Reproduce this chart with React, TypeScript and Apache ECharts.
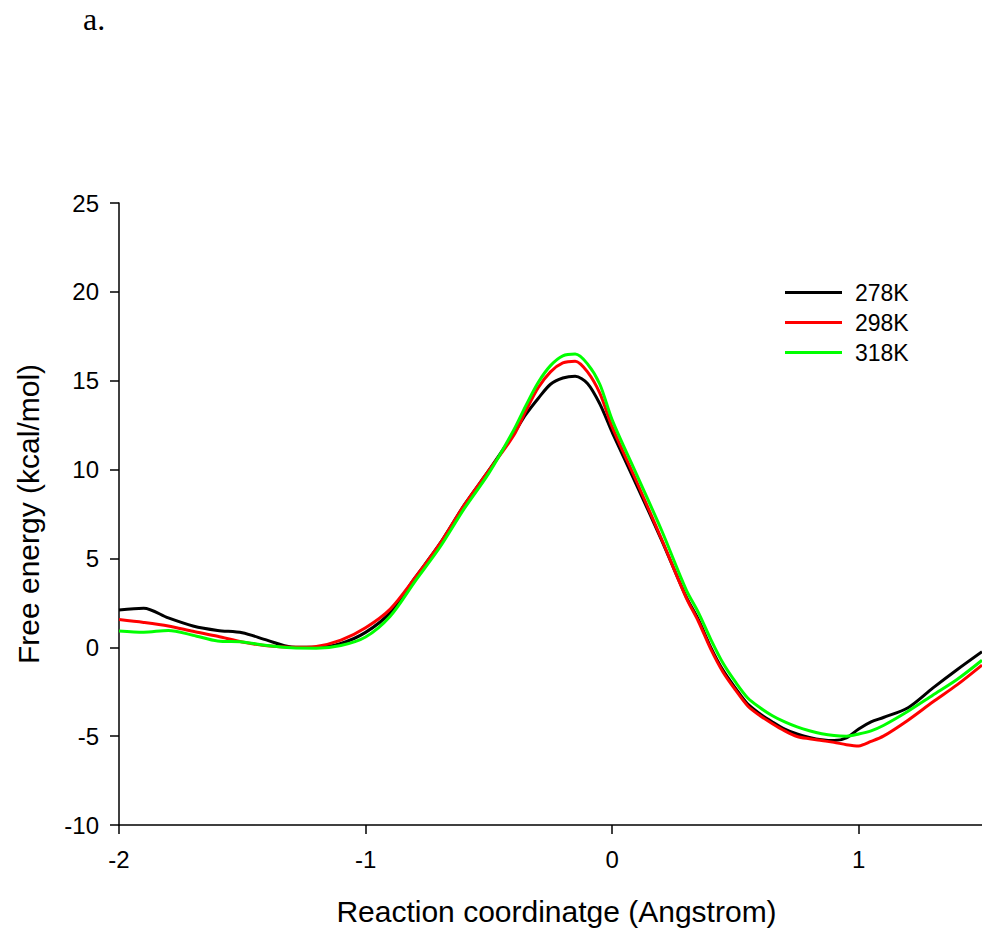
import React, { useEffect, useRef } from "react";
import * as echarts from "echarts";

const seriesNames = ["278K", "298K", "318K"];
const seriesColors = ["#000000", "#ff0000", "#00ff00"];

const xValues = [
  -2.0, -1.9, -1.8, -1.7, -1.6, -1.5, -1.4, -1.3, -1.2, -1.1, -1.0, -0.9, -0.8,
  -0.7, -0.6, -0.5, -0.4, -0.35, -0.3, -0.25, -0.2, -0.15, -0.1, -0.05, 0.0,
  0.1, 0.2, 0.3, 0.35, 0.4, 0.45, 0.5, 0.55, 0.6, 0.65, 0.7, 0.75, 0.8, 0.85,
  0.9, 0.95, 1.0, 1.05, 1.1, 1.2, 1.3, 1.4, 1.5,
];

const energy278 = [
  2.1, 2.2, 1.65, 1.2, 0.95, 0.82, 0.4, 0.02, 0.0, 0.22, 0.84, 1.95, 3.9, 5.8,
  8.0, 9.95, 12.0, 13.1, 14.0, 14.8, 15.15, 15.25, 14.85, 13.7, 12.1,
  9.1, 6.05, 2.85, 1.55, 0.0, -1.3, -2.3, -3.2, -3.75, -4.2, -4.6, -4.88,
  -5.07, -5.2, -5.25, -5.1, -4.6, -4.2, -3.95, -3.4, -2.3, -1.25, -0.25,
];

const energy298 = [
  1.56, 1.4, 1.2, 0.9, 0.62, 0.3, 0.08, 0.0, 0.05, 0.4, 1.1, 2.15, 3.9, 5.8,
  8.0, 9.95, 11.9, 13.3, 14.6, 15.5, 16.0, 16.1, 15.5, 14.3, 12.4,
  9.3, 6.1, 2.8, 1.45, -0.1, -1.4, -2.4, -3.3, -3.85, -4.3, -4.7, -5.02,
  -5.15, -5.25, -5.35, -5.48, -5.55, -5.3, -5.0, -4.1, -3.08, -2.1, -1.0,
];

const energy318 = [
  0.92, 0.85, 0.95, 0.68, 0.35, 0.3, 0.1, -0.03, -0.05, 0.1, 0.58, 1.75, 3.7,
  5.6, 7.8, 9.8, 12.2, 13.6, 14.9, 15.85, 16.4, 16.5, 15.95, 14.8, 12.8,
  9.7, 6.6, 3.25, 1.95, 0.45, -0.9, -1.95, -2.85, -3.4, -3.85, -4.2, -4.48,
  -4.7, -4.87, -4.97, -5.0, -4.88, -4.7, -4.4, -3.6, -2.7, -1.8, -0.73,
];

const xTicks = [-2, -1, 0, 1];
const yTicks = [-10, -5, 0, 5, 10, 15, 20, 25];

const allSeries = [energy278, energy298, energy318];

export default function App() {
  const ref = useRef<HTMLDivElement>(null);

  useEffect(() => {
    if (!ref.current) return;
    const chart = echarts.init(ref.current, null, { renderer: "svg" });
    const font = "Liberation Sans, Arial, sans-serif";
    chart.setOption({
      animation: false,
      backgroundColor: "#ffffff",
      textStyle: { fontFamily: font },
      graphic: [
        {
          type: "text",
          left: 83,
          top: 3,
          style: {
            text: "a.",
            font: "32px 'Liberation Serif', 'Times New Roman', serif",
            fill: "#000",
          },
        },
      ],
      legend: {
        orient: "vertical",
        left: 785,
        top: 281,
        padding: 0,
        itemGap: 7,
        itemWidth: 57,
        itemHeight: 3,
        icon: "rect",
        data: seriesNames,
        textStyle: {
          fontFamily: font,
          fontSize: 23,
          color: "#000",
          padding: [0, 0, 0, 8],
        },
      },
      grid: {
        left: 119,
        right: 0,
        top: 203,
        bottom: 112,
        containLabel: false,
        outerBoundsMode: "none",
      },
      xAxis: {
        type: "value",
        min: -2,
        max: 1.5,
        interval: 1,
        name: "Reaction coordinatge (Angstrom)",
        nameLocation: "middle",
        nameGap: 71,
        nameTextStyle: {
          fontFamily: font,
          fontSize: 30,
          color: "#000",
          padding: [0, 0, 0, 12],
        },
        axisLine: { show: true, onZero: false, lineStyle: { color: "#000", width: 1.5 } },
        axisTick: { show: true, length: 9, customValues: xTicks, lineStyle: { color: "#000", width: 1.5 } },
        axisLabel: {
          customValues: xTicks,
          margin: 22,
          fontFamily: font,
          fontSize: 24,
          color: "#000",
        },
        splitLine: { show: false },
      },
      yAxis: {
        type: "value",
        min: -10,
        max: 25,
        interval: 5,
        name: "Free energy (kcal/mol)",
        nameLocation: "middle",
        nameGap: 76,
        nameRotate: 90,
        nameTextStyle: { fontFamily: font, fontSize: 30, color: "#000" },
        axisLine: { show: true, onZero: false, lineStyle: { color: "#000", width: 1.5 } },
        axisTick: { show: true, length: 9, customValues: yTicks, lineStyle: { color: "#000", width: 1.5 } },
        axisLabel: {
          customValues: yTicks,
          margin: 20,
          fontFamily: font,
          fontSize: 24,
          color: "#000",
        },
        splitLine: { show: false },
      },
      series: allSeries.map((vals, i) => ({
        name: seriesNames[i],
        type: "line",
        data: xValues.map((x, j) => [x, vals[j]]),
        smooth: 0.3,
        symbol: "none",
        color: seriesColors[i],
        lineStyle: { color: seriesColors[i], width: 3 },
        itemStyle: { color: seriesColors[i] },
        clip: true,
      })),
    });
    return () => chart.dispose();
  }, []);

  return (
    <div
      ref={ref}
      style={{ position: "fixed", left: 0, top: 0, width: 982, height: 937 }}
    />
  );
}
